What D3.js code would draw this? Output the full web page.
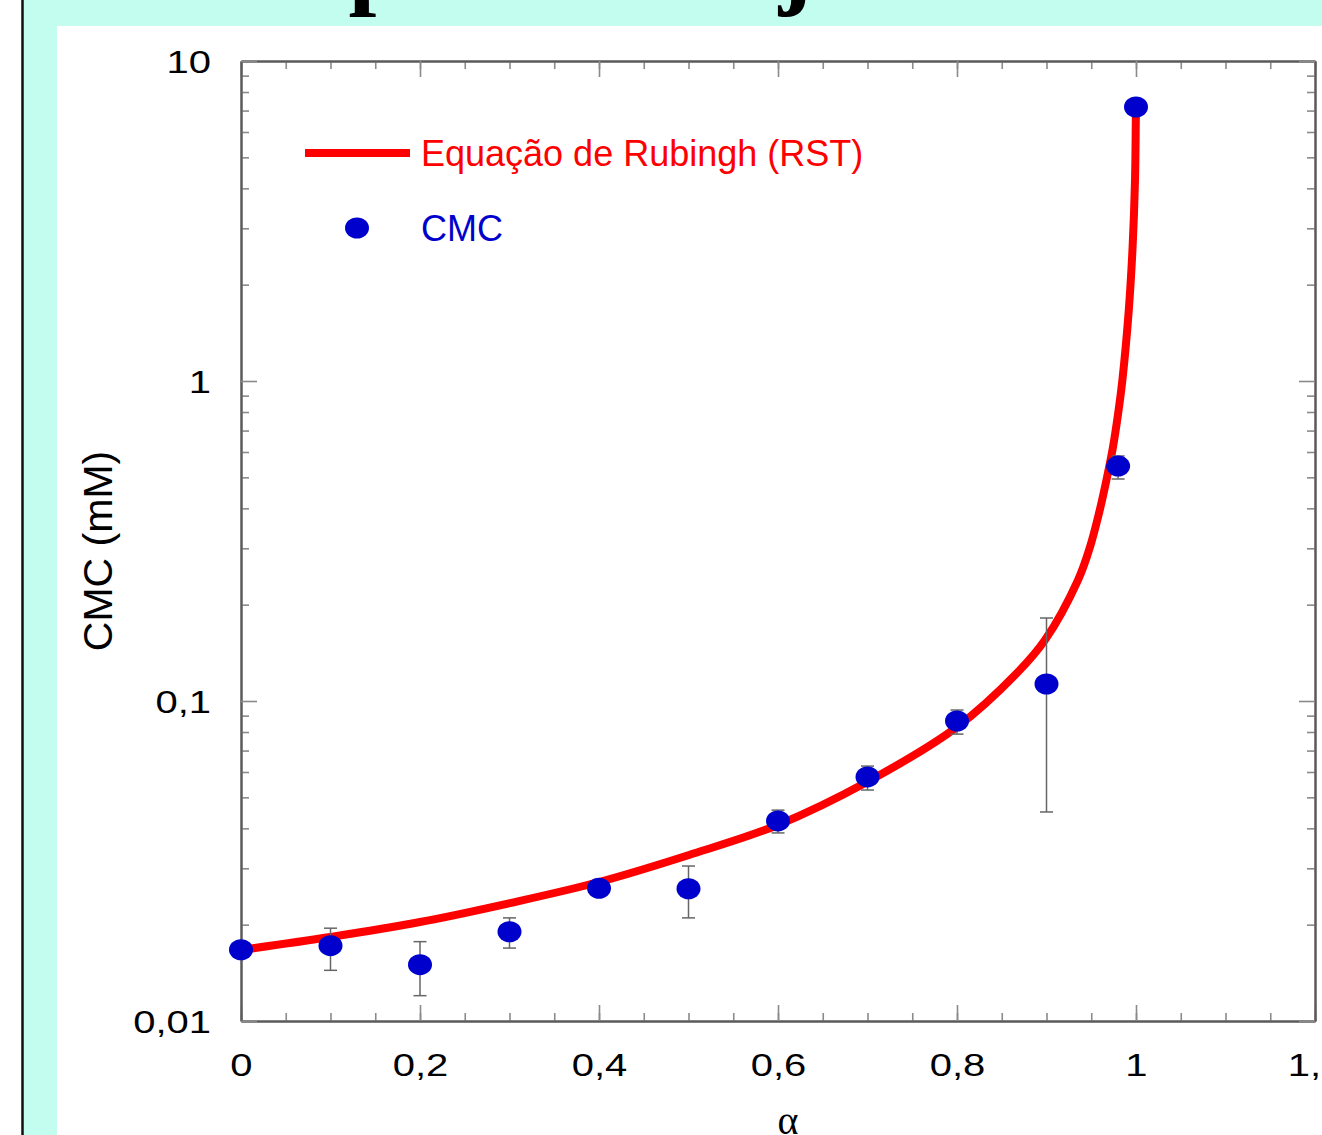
<!DOCTYPE html>
<html>
<head>
<meta charset="utf-8">
<script src="https://cdn.jsdelivr.net/npm/d3@7"></script>
<style>
  html, body { margin: 0; padding: 0; background: #fff; overflow: hidden; }
</style>
</head>
<body>
<svg id="chart" width="1322" height="1135"></svg>
<script>
'use strict'

// measured CMC points (alpha, CMC in mM) with error bar limits
const alphaPts = [0, 0.1, 0.2, 0.3, 0.4, 0.5, 0.6, 0.7, 0.8, 0.9, 0.98, 1.0]
const cmcPts = [0.0167, 0.0172, 0.0150, 0.0190, 0.0260, 0.0259, 0.0422, 0.0579, 0.0866, 0.113, 0.542, 7.18]
const errHigh = [0.0167, 0.0195, 0.0177, 0.0210, 0.0260, 0.0305, 0.0456, 0.0626, 0.0937, 0.1817, 0.583, 7.18]
const errLow = [0.0167, 0.0144, 0.0120, 0.0169, 0.0260, 0.0210, 0.0387, 0.0527, 0.0788, 0.0450, 0.494, 7.18]

// Rubingh (RST) curve
const fitAlpha = [0, 0.0994, 0.2, 0.3006, 0.4, 0.5006, 0.6, 0.6994, 0.8, 0.867, 0.8983,
  0.9352, 0.9486, 0.9587, 0.967, 0.9743, 0.9801, 0.9848, 0.9917, 0.9962, 0.9989, 0.9998, 1.0]
const fitCMC = [0.01667, 0.0183, 0.02039, 0.02337, 0.02719, 0.03303, 0.04099, 0.05582, 0.08296, 0.1223, 0.1551,
  0.2388, 0.303, 0.3868, 0.4906, 0.622, 0.794, 1.007, 1.632, 2.623, 4.25, 6.54, 7.18]

// ticks
const xMajor = [0, 0.2, 0.4, 0.6, 0.8, 1.0, 1.2]
const xMinor = d3.range(0, 1.2001, 0.05)
const yMajor = [0.01, 0.1, 1, 10]
const yMinor = [0.01, 0.1, 1].flatMap(d => d3.range(2, 10).map(k => d * k))

const legendLabels = ['Equação de Rubingh (RST)', 'CMC']

const ptBr = d3.formatLocale({ decimal: ',', thousands: '.', grouping: [3], currency: ['R$', ''] })
const fmt = ptBr.format('~g')

const svg = d3.select('#chart')

// slide background
svg.append('rect').attr('width', 1322).attr('height', 1135).attr('fill', '#fff')
svg.append('rect').attr('x', 23).attr('width', 1299).attr('height', 1135).attr('fill', '#c2fdef')
svg.append('line')
  .attr('x1', 22.5).attr('x2', 22.5).attr('y1', 0).attr('y2', 1135)
  .attr('stroke', '#111').attr('stroke-width', 2.5)
svg.append('rect').attr('x', 57).attr('y', 26).attr('width', 1265).attr('height', 1109).attr('fill', '#fff')

// slide title, mostly cut off above the top edge
svg.append('text')
  .attr('x', 189).attr('y', -4)
  .attr('font-family', 'Liberation Serif, serif')
  .attr('font-weight', 'bold')
  .attr('font-size', 100)
  .attr('letter-spacing', -15.3)
  .attr('fill', '#000')
  .text('Comportamento e ajuste')

const x = d3.scaleLinear().domain([0, 1.2]).range([241, 1315])
const y = d3.scaleLog().domain([0.01, 10]).range([1021, 61])

function styleAxis (g) {
  g.select('.domain').attr('stroke', '#5a5a5a').attr('stroke-width', 2)
  g.selectAll('.tick line').attr('stroke', '#8a8a8a').attr('stroke-width', 1.6)
}

// minor ticks first
svg.append('g').attr('transform', 'translate(0,1021)')
  .call(d3.axisBottom(x).tickValues(xMinor).tickSize(-8).tickSizeOuter(0).tickFormat(''))
  .call(styleAxis)
svg.append('g').attr('transform', 'translate(0,61)')
  .call(d3.axisTop(x).tickValues(xMinor).tickSize(-8).tickSizeOuter(0).tickFormat(''))
  .call(styleAxis)
svg.append('g').attr('transform', 'translate(241,0)')
  .call(d3.axisLeft(y).tickValues(yMinor).tickSize(-8).tickSizeOuter(0).tickFormat(''))
  .call(styleAxis)
svg.append('g').attr('transform', 'translate(1315,0)')
  .call(d3.axisRight(y).tickValues(yMinor).tickSize(-8).tickSizeOuter(0).tickFormat(''))
  .call(styleAxis)

// major ticks
const xAxis = svg.append('g').attr('transform', 'translate(0,1021)')
  .call(d3.axisBottom(x).tickValues(xMajor).tickSize(-16).tickSizeOuter(0).tickFormat(fmt))
  .call(styleAxis)
xAxis.selectAll('text')
  .attr('y', 32).attr('dy', '0.71em')
  .attr('transform', 'scale(1.25,1)')
  .attr('font-size', 32).attr('font-family', 'Liberation Sans, Arial, sans-serif').attr('fill', '#000')

svg.append('g').attr('transform', 'translate(0,61)')
  .call(d3.axisTop(x).tickValues(xMajor).tickSize(-16).tickSizeOuter(0).tickFormat(''))
  .call(styleAxis)

const yAxis = svg.append('g').attr('transform', 'translate(241,0)')
  .call(d3.axisLeft(y).tickValues(yMajor).tickSize(-16).tickSizeOuter(0).tickFormat(fmt))
  .call(styleAxis)
yAxis.selectAll('text')
  .attr('x', -24).attr('dy', '0.36em')
  .attr('transform', 'scale(1.25,1)')
  .attr('font-size', 32).attr('font-family', 'Liberation Sans, Arial, sans-serif').attr('fill', '#000')

svg.append('g').attr('transform', 'translate(1315,0)')
  .call(d3.axisRight(y).tickValues(yMajor).tickSize(-16).tickSizeOuter(0).tickFormat(''))
  .call(styleAxis)

// axis titles
svg.append('text')
  .attr('transform', 'translate(112,551) rotate(-90)')
  .attr('text-anchor', 'middle')
  .attr('font-family', 'Liberation Sans, Arial, sans-serif')
  .attr('font-size', 41)
  .attr('fill', '#000')
  .text('CMC (mM)')

svg.append('text')
  .attr('x', 788).attr('y', 1134)
  .attr('text-anchor', 'middle')
  .attr('font-family', 'Liberation Serif, serif')
  .attr('font-size', 40)
  .attr('fill', '#000')
  .text('α')

// fitted curve
const fit = fitAlpha.map((a, i) => [a, fitCMC[i]])
const line = d3.line()
  .x(d => x(d[0]))
  .y(d => y(d[1]))
  .curve(d3.curveCatmullRom.alpha(0.5))

svg.append('path')
  .datum(fit)
  .attr('d', line)
  .attr('fill', 'none')
  .attr('stroke', '#ff0000')
  .attr('stroke-width', 8)

// error bars
const pts = alphaPts.map((a, i) => ({ a, v: cmcPts[i], hi: errHigh[i], lo: errLow[i] }))
const bars = svg.append('g')
  .selectAll('g')
  .data(pts.filter(d => d.hi > d.lo))
  .enter()
  .append('g')
    .attr('stroke', '#666')
    .attr('stroke-width', 1.5)

bars.append('line')
  .attr('x1', d => x(d.a)).attr('x2', d => x(d.a))
  .attr('y1', d => y(d.hi)).attr('y2', d => y(d.lo))
bars.append('line')
  .attr('x1', d => x(d.a) - 6.5).attr('x2', d => x(d.a) + 6.5)
  .attr('y1', d => y(d.hi)).attr('y2', d => y(d.hi))
bars.append('line')
  .attr('x1', d => x(d.a) - 6.5).attr('x2', d => x(d.a) + 6.5)
  .attr('y1', d => y(d.lo)).attr('y2', d => y(d.lo))

// points
svg.append('g')
  .selectAll('ellipse')
  .data(pts)
  .enter()
  .append('ellipse')
    .attr('cx', d => x(d.a))
    .attr('cy', d => y(d.v))
    .attr('rx', 12)
    .attr('ry', 10.5)
    .attr('fill', '#0000cc')

// legend
svg.append('line')
  .attr('x1', 305).attr('x2', 410).attr('y1', 153).attr('y2', 153)
  .attr('stroke', '#ff0000').attr('stroke-width', 8)
svg.append('text')
  .attr('x', 421).attr('y', 166)
  .attr('font-family', 'Liberation Sans, Arial, sans-serif')
  .attr('font-size', 36)
  .attr('fill', '#ff0000')
  .text(legendLabels[0])
svg.append('ellipse')
  .attr('cx', 357).attr('cy', 228).attr('rx', 12).attr('ry', 10.5)
  .attr('fill', '#0000cc')
svg.append('text')
  .attr('x', 421).attr('y', 241)
  .attr('font-family', 'Liberation Sans, Arial, sans-serif')
  .attr('font-size', 36)
  .attr('fill', '#0000cc')
  .text(legendLabels[1])
</script>
</body>
</html>
